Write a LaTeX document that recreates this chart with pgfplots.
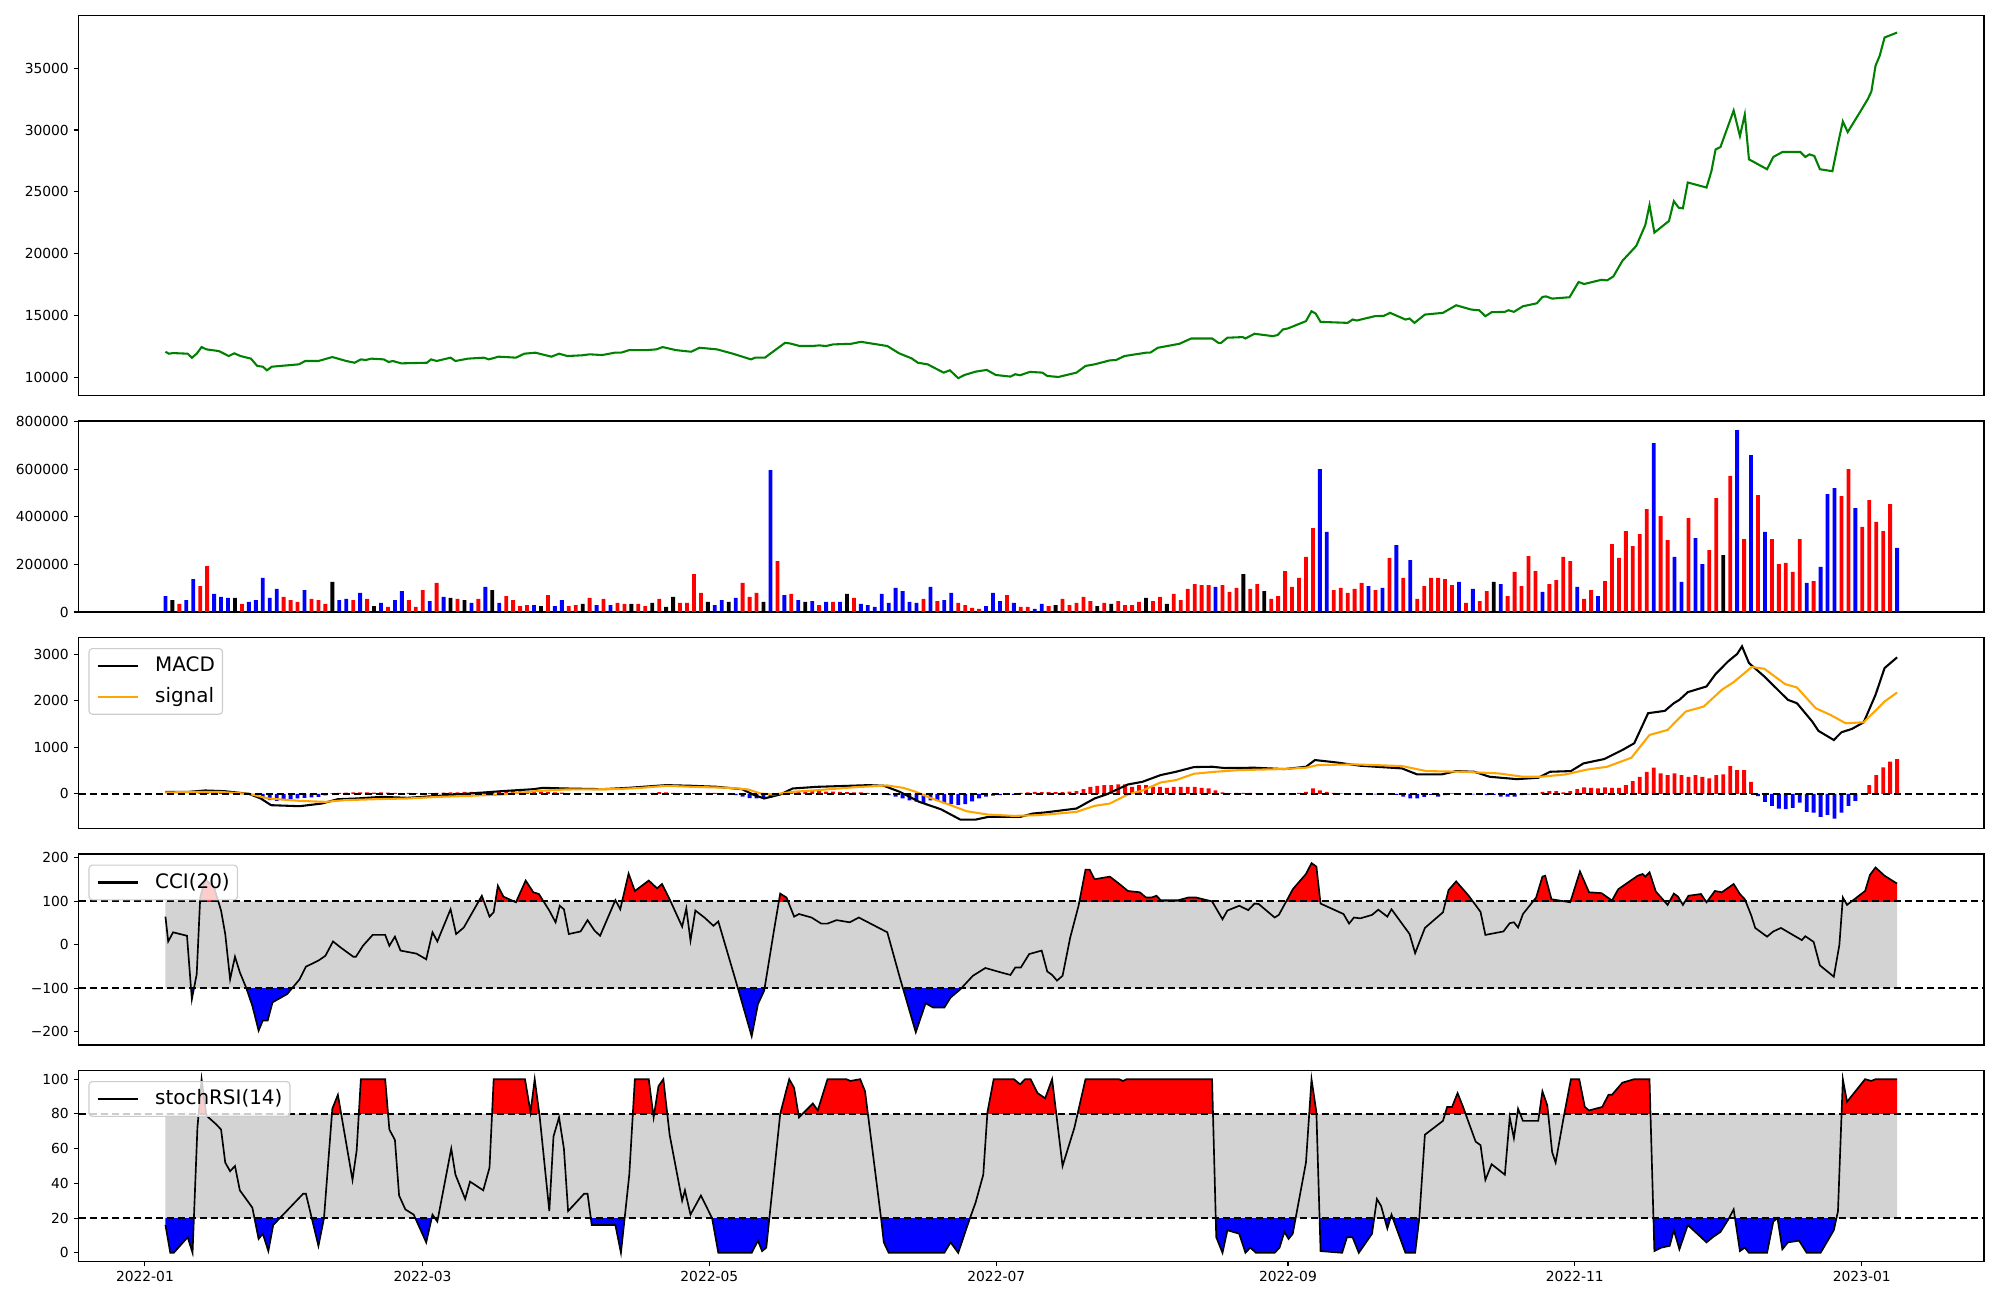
\documentclass[border=0pt]{standalone}
\usepackage{fontspec}
\setmainfont{DejaVu Sans}
\usepackage{pgfplots}
\pgfplotsset{compat=1.18}
\usepackage{pgfplotstable}

\definecolor{mplgreen}{RGB}{0,128,0}
\definecolor{mplorange}{RGB}{255,165,0}
\definecolor{mpllgray}{RGB}{211,211,211}
\definecolor{legedge}{RGB}{204,204,204}

\pgfplotstableread[row sep=\\]{x y\\
0 65\\ 0.4 8\\ 1.1 29\\ 3.1 21\\ 3.8 -125\\ 4.5 -67\\ 5 109\\ 5.7 151\\ 7 132\\ 8 79\\ 8.6 25\\ 9.3 -79\\ 10 -27\\ 10.7 -63\\ 11.6 -98\\ 12.5 -140\\ 13.4 -197\\ 14 -174\\ 14.7 -174\\ 15.4 -132\\ 17.5 -113\\ 19.3 -79\\ 20.2 -50\\ 22 -36\\ 23 -25\\ 24.1 8\\ 25.2 -6\\ 27 -27\\ 27.4 -27\\ 28.4 -2\\ 29.8 23\\ 31.6 23\\ 32.2 -2\\ 33 19\\ 33.8 -13\\ 36.1 -20\\ 37.5 -33\\ 38.4 29\\ 39.1 8\\ 41 82\\ 41.8 25\\ 42.9 40\\ 45.5 113\\ 46.6 65\\ 47.2 75\\ 47.8 136\\ 48.6 111\\ 50.4 98\\ 51.8 148\\ 52.9 121\\ 53.7 117\\ 55.2 79\\ 56.1 52\\ 56.7 90\\ 57.3 82\\ 58 25\\ 59.7 31\\ 60.7 57\\ 61.7 33\\ 62.5 21\\ 64.7 103\\ 65.4 82\\ 66.6 164\\ 67.5 124\\ 69.5 148\\ 70.7 130\\ 71.4 140\\ 72.5 105\\ 74.3 42\\ 74.9 84\\ 75.5 10\\ 76.2 79\\ 77.5 63\\ 78.8 44\\ 79.5 54\\ 82 -82\\ 84.3 -210\\ 85.2 -136\\ 86.1 -105\\ 87.5 33\\ 88.4 118\\ 89.3 109\\ 90.4 65\\ 91.1 71\\ 92.9 63\\ 94.3 49\\ 95.2 49\\ 96.5 57\\ 98.4 52\\ 99.7 63\\ 103.8 29\\ 105.6 -75\\ 107.9 -201\\ 109.3 -134\\ 110.4 -144\\ 112 -144\\ 112.9 -121\\ 114.3 -102\\ 116.1 -71\\ 117.9 -53\\ 120.1 -63\\ 121.5 -69\\ 122.2 -52\\ 123 -52\\ 124.2 -21\\ 126 -13\\ 126.8 -61\\ 127.5 -69\\ 128.2 -82\\ 129 -71\\ 130.1 17\\ 131.3 90\\ 132.3 173\\ 132.9 173\\ 133.6 151\\ 135.8 157\\ 137.1 141\\ 138.4 124\\ 140.1 121\\ 141 109\\ 141.8 109\\ 142.5 113\\ 143.1 103\\ 145.7 103\\ 147.1 109\\ 148.2 109\\ 150.5 100\\ 152 59\\ 152.7 79\\ 154.4 90\\ 155.7 80\\ 156.6 95\\ 157.2 94\\ 159.5 63\\ 160.1 69\\ 161.4 107\\ 162.1 128\\ 164 163\\ 164.8 188\\ 165.5 180\\ 166.1 95\\ 169.4 71\\ 170.2 49\\ 170.9 63\\ 171.8 61\\ 173.5 69\\ 174.4 81\\ 175.7 65\\ 176.3 82\\ 178.9 25\\ 179.7 -19\\ 181.1 39\\ 183.7 75\\ 184.5 126\\ 185.6 146\\ 187.4 113\\ 189.1 76\\ 189.8 23\\ 192.4 31\\ 193.3 50\\ 193.9 52\\ 194.5 40\\ 195.2 71\\ 197.1 109\\ 198 157\\ 198.4 159\\ 199.3 105\\ 202 98\\ 203.4 169\\ 204.7 121\\ 206.5 119\\ 208 102\\ 208.9 128\\ 211.7 159\\ 212.4 163\\ 212.8 157\\ 213.4 167\\ 214.3 123\\ 216 92\\ 216.9 118\\ 217.5 111\\ 218.2 92\\ 219 113\\ 220.8 117\\ 221.6 98\\ 222.8 124\\ 223.8 121\\ 225.5 140\\ 226.4 117\\ 227.1 105\\ 228 69\\ 228.6 39\\ 230.3 19\\ 231.2 31\\ 232.3 39\\ 235.3 11\\ 235.8 20\\ 237 7\\ 237.9 -47\\ 239.9 -73\\ 240.7 0\\ 241.2 109\\ 241.8 92\\ 244.4 124\\ 245.1 161\\ 245.9 178\\ 247.2 159\\ 249 141\\
}\ccitab

\pgfplotstableread[row sep=\\]{x y\\
0 16\\ 0.7 0\\ 1.2 0\\ 3.2 9\\ 3.9 0\\ 4.6 72\\ 5.2 100\\ 5.9 79\\ 7.3 74\\ 8 71\\ 8.6 52\\ 9.3 47\\ 10 50\\ 10.7 36\\ 12.5 26\\ 13.4 8\\ 14 11\\ 14.8 1\\ 15.5 16\\ 19.8 34\\ 20.2 34\\ 22 4\\ 22.8 20\\ 24 83\\ 24.8 91\\ 26.9 42\\ 27.5 59\\ 28.1 100\\ 31.6 100\\ 32.2 71\\ 33 65\\ 33.6 33\\ 34.5 25\\ 35.7 22\\ 37.5 6\\ 38.4 22\\ 39.1 18\\ 41.1 60\\ 41.7 45\\ 43.1 31\\ 43.8 41\\ 45.7 36\\ 46.6 49\\ 47.2 100\\ 51.7 100\\ 52.5 81\\ 53.1 100\\ 53.8 79\\ 55.2 24\\ 55.8 67\\ 56.6 78\\ 57.3 60\\ 57.9 24\\ 60.2 34\\ 60.7 34\\ 61.3 16\\ 64.7 16\\ 65.5 0\\ 66.7 45\\ 67.5 100\\ 69.5 100\\ 70.2 78\\ 70.9 96\\ 71.6 100\\ 72.5 68\\ 74.3 30\\ 74.7 36\\ 75.5 22\\ 77 33\\ 78.6 20\\ 79.5 0\\ 84.3 0\\ 85.2 7\\ 85.8 1\\ 86.4 3\\ 88.4 80\\ 89.3 94\\ 89.7 100\\ 90.4 95\\ 91.1 78\\ 93.1 86\\ 93.8 82\\ 95.2 100\\ 97.9 100\\ 98.5 99\\ 99.9 100\\ 100.6 93\\ 102.9 20\\ 103.3 6\\ 104 0\\ 112 0\\ 112.9 6\\ 114 0\\ 115.6 19\\ 116.5 29\\ 117.6 45\\ 118.2 81\\ 119.1 100\\ 122 100\\ 122.9 97\\ 123.6 100\\ 124.4 100\\ 125.4 92\\ 126.5 89\\ 127.5 100\\ 129 50\\ 130.7 72\\ 132.3 100\\ 137.1 100\\ 137.7 99\\ 138.2 100\\ 150.5 100\\ 151.1 9\\ 152 0\\ 152.7 13\\ 154.4 11\\ 155.3 0\\ 156 3\\ 156.8 0\\ 159.5 0\\ 160.2 3\\ 160.9 12\\ 161.5 8\\ 162.1 11\\ 164 52\\ 164.8 100\\ 165.5 81\\ 166.1 1\\ 169.2 0\\ 169.9 9\\ 170.7 9\\ 171.6 0\\ 173.5 11\\ 174.2 31\\ 174.8 27\\ 175.7 14\\ 176.3 22\\ 178.3 0\\ 179.7 0\\ 180.3 20\\ 181.1 68\\ 183.7 76\\ 184.3 84\\ 185 84\\ 185.8 92\\ 186.5 85\\ 188.4 64\\ 189.1 62\\ 189.8 42\\ 190.7 51\\ 192.6 45\\ 193.3 78\\ 193.9 66\\ 194.5 83\\ 195.2 76\\ 197.4 76\\ 198 93\\ 198.7 85\\ 199.4 58\\ 199.9 52\\ 201.1 79\\ 202.1 100\\ 203.3 100\\ 204.1 84\\ 204.7 82\\ 206.6 84\\ 207.5 91\\ 208 91\\ 209.5 98\\ 211.2 100\\ 213.4 100\\ 214.1 1\\ 215.1 3\\ 216.3 4\\ 216.9 13\\ 217.7 2\\ 218.9 16\\ 220.8 9\\ 221.6 6\\ 222.5 9\\ 223.6 12\\ 224.7 19\\ 225.5 25\\ 226.4 1\\ 227.1 3\\ 227.7 0\\ 230.3 0\\ 231.2 18\\ 231.8 20\\ 232.5 2\\ 233.3 6\\ 234.9 7\\ 236 0\\ 238 0\\ 239.9 13\\ 240.5 24\\ 241.2 100\\ 241.8 87\\ 244.4 100\\ 245.3 99\\ 245.9 100\\ 249 100\\
}\srsitab

\pgfplotsset{
  panel/.style={
    scale only axis, width=19.055in, xmin=-12.5, xmax=261.5,
    anchor=south west,
    axis line style={line width=0.8pt},
    every tick/.style={black, line width=0.8pt},
    tick align=outside, major tick length=3.5pt,
    xtick=\empty, ytick pos=left, xtick pos=bottom,
    tick label style={font=\fontsize{10}{12}\selectfont},
    /pgf/number format/assume math mode=true,
    /pgf/number format/1000 sep={},
    scaled y ticks=false,
    legend style={at={(0,1)}, anchor=north west, xshift=7.2pt, yshift=-7.6pt,
      draw=legedge, line width=0.8pt, fill=white, fill opacity=0.8, draw opacity=1, text opacity=1,
      rounded corners=2.5pt, font=\fontsize{14.4}{17}\selectfont,
      inner xsep=5.5pt, inner ysep=6pt, row sep=9.1pt, column sep=12pt,
      nodes={inner sep=0pt, text height=10.6pt, text depth=2.6pt}},
    legend cell align={left},
    legend image code/.code={\draw[##1, line width=1.5pt, draw opacity=1] (0pt,0pt) -- (28.8pt,0pt);},
  },
  vbar/.style={ybar, bar width=0.55, bar shift=0pt, draw=none, forget plot},
  hdash/.style={black, line width=1.5pt, dash pattern=on 5.55pt off 2.4pt, forget plot},
}

\begin{document}
\begin{tikzpicture}
\path[use as bounding box] (0,0) rectangle (20in,13in);

% ---------------- price
\begin{axis}[panel, at={(0.785in,9.045in)}, height=3.802in,
  ymin=8554, ymax=39266,
  ytick={10000,15000,20000,25000,30000,35000},
  yticklabels={10000,15000,20000,25000,30000,35000}]
\addplot[mplgreen, line width=1.5pt] coordinates {
(0,12090) (0.5,11930) (1.1,11980) (3.2,11930) (3.8,11600) (4.5,11930) (5.2,12465) (5.9,12280) (7.7,12140) (9.1,11740) (9.9,11960) (10.8,11740) (12.3,11530) (13.2,10940) (14,10880) (14.6,10590) (15.3,10880) (19.2,11070) (20.1,11340) (22,11340) (24,11660) (26,11340) (27.2,11200) (28.1,11470) (28.8,11420) (29.6,11530) (31.4,11470) (32.1,11260) (32.7,11340) (33.9,11150) (37.6,11200) (38.2,11470) (39,11340) (41,11610) (41.7,11340) (43.5,11530) (45.8,11610) (46.5,11470) (47.9,11690) (50.4,11610) (51.6,11930) (53.2,12010) (55.5,11690) (56.6,11930) (57.8,11740) (59.9,11800) (61,11880) (62.8,11820) (64.6,12010) (65.5,12010) (66.7,12220) (69.2,12220) (70.6,12280) (71.5,12465) (73.4,12220) (74.7,12140) (75.6,12090) (76.8,12410) (79.3,12280) (81.6,11930) (84.2,11470) (84.8,11610) (86.2,11610) (89.1,12810) (89.8,12760) (91.2,12550) (93,12550) (94,12600) (95,12550) (96,12680) (98.6,12730) (100,12890) (103.8,12550) (105.5,11960) (107.3,11550) (108.2,11200) (109.6,11070) (111.9,10400) (112.8,10590) (114,9950) (114.9,10210) (116.5,10480) (118.1,10620) (119.4,10210) (121.5,10080) (122.2,10270) (122.9,10190) (124.3,10460) (126.1,10400) (126.8,10130) (128.4,10050) (131,10400) (132.3,10940) (133.6,11070) (135.8,11390) (136.7,11420) (137.9,11740) (141,12010) (141.6,12010) (142.7,12410) (145.8,12730) (147.5,13160) (150.5,13160) (151.4,12810) (151.8,12810) (152.7,13220) (154.9,13270) (155.3,13160) (156.6,13540) (159.2,13350) (159.9,13430) (160.7,13890) (161.4,13970) (164,14560) (164.8,15360) (165.4,15170) (166.1,14500) (170,14420) (170.7,14690) (171.3,14610) (173.9,14960) (175.2,14990) (176.1,15230) (178.3,14690) (178.9,14770) (179.6,14420) (181.1,15090) (183.7,15230) (185.6,15840) (187.8,15490) (188.9,15440) (189.8,14960) (190.7,15280) (192.6,15310) (193.1,15440) (193.9,15310) (195.2,15760) (197.2,16000) (198,16510) (198.5,16560) (199.4,16380) (201.9,16490) (203.2,17720) (204,17560) (206.5,17900) (207.3,17850) (208.2,18170) (209.5,19430) (211.5,20640) (212.8,22330) (213.4,23930) (214.1,21710) (216.2,22650) (216.9,24250) (217.6,23720) (218.2,23670) (218.9,25760) (221.6,25350) (222.3,26670) (222.9,28430) (223.6,28620) (225.5,31570) (226.4,29510) (227.1,31250) (227.7,27630) (230.3,26830) (231.2,27820) (232.5,28220) (235.1,28220) (235.8,27820) (236.4,28030) (237.1,27900) (237.9,26830) (239.7,26670) (240.5,28890) (241.2,30690) (241.9,29830) (243.8,31570) (244.8,32510) (245.3,33100) (245.9,35190) (246.5,36000) (247.2,37470) (249,37870)
};
\end{axis}

% ---------------- volume
\begin{axis}[panel, at={(0.785in,6.88in)}, height=1.91in,
  ymin=0, ymax=802000,
  ytick={0,200000,400000,600000,800000},
  yticklabels={0,200000,400000,600000,800000}]
\addplot[vbar, fill=red] coordinates {
(2,34000) (5,109000) (6,193000) (11,34000) (17,63000) (18,50000) (19,42000) (21,55000) (22,50000) (23,34000) (27,50000) (29,55000) (32,21000) (35,50000) (36,21000) (37,92000) (39,122000) (42,55000) (45,55000) (49,67000) (50,50000) (51,25000) (52,29000) (55,71000) (58,25000) (59,29000) (61,59000) (63,55000) (65,38000) (66,34000) (68,34000) (69,25000) (71,55000) (74,38000) (75,38000) (76,159000) (77,80000) (83,122000) (84,63000) (85,80000) (88,214000) (90,76000) (94,29000) (96,42000) (99,59000) (109,55000) (111,46000) (114,38000) (115,29000) (116,17000) (117,13000) (121,71000) (123,21000) (124,21000) (127,25000) (129,55000) (130,29000) (131,38000) (132,63000) (133,46000) (135,38000) (137,46000) (138,29000) (139,29000) (140,42000) (142,46000) (143,63000) (145,76000) (146,50000) (147,97000) (148,117000) (149,113000) (150,113000) (152,113000) (153,84000) (154,101000) (156,97000) (157,117000) (159,55000) (160,67000) (161,172000) (162,105000) (163,143000) (164,231000) (165,352000) (168,92000) (169,101000) (170,80000) (171,97000) (172,122000) (174,92000) (176,227000) (178,143000) (180,55000) (181,109000) (182,143000) (183,143000) (184,138000) (185,113000) (187,38000) (189,46000) (190,88000) (193,67000) (194,168000) (195,109000) (196,235000) (197,172000) (199,117000) (200,134000) (201,231000) (202,214000) (204,55000) (205,92000) (207,130000) (208,285000) (209,227000) (210,340000) (211,277000) (212,327000) (213,432000) (215,403000) (216,302000) (219,394000) (222,260000) (223,478000) (225,571000) (227,306000) (229,491000) (231,306000) (232,201000) (233,206000) (234,168000) (235,306000) (237,130000) (241,487000) (242,600000) (244,357000) (245,470000) (246,378000) (247,340000) (248,453000)
};
\addplot[vbar, fill=blue] coordinates {
(0,67000) (3,50000) (4,138000) (7,76000) (8,63000) (9,59000) (12,42000) (13,50000) (14,143000) (15,59000) (16,97000) (20,92000) (25,50000) (26,55000) (28,80000) (31,38000) (33,50000) (34,88000) (38,46000) (40,63000) (44,38000) (46,105000) (48,38000) (53,29000) (56,25000) (57,50000) (62,29000) (64,29000) (79,29000) (80,50000) (82,59000) (87,596000) (89,71000) (91,50000) (93,46000) (95,42000) (97,42000) (100,34000) (101,29000) (102,21000) (103,76000) (104,38000) (105,101000) (106,88000) (107,42000) (108,38000) (110,105000) (112,50000) (113,80000) (118,25000) (119,80000) (120,46000) (122,38000) (125,13000) (126,34000) (151,105000) (166,600000) (167,336000) (173,109000) (175,101000) (177,281000) (179,218000) (186,126000) (188,97000) (192,117000) (198,84000) (203,105000) (206,67000) (214,709000) (217,231000) (218,126000) (220,310000) (221,201000) (226,764000) (228,659000) (230,336000) (236,122000) (238,189000) (239,495000) (240,520000) (243,436000) (249,269000)
};
\addplot[vbar, fill=black] coordinates {
(1,50000) (10,59000) (24,126000) (30,25000) (41,59000) (43,50000) (47,92000) (54,25000) (60,34000) (67,34000) (70,38000) (72,21000) (73,63000) (78,42000) (81,42000) (86,42000) (92,42000) (98,76000) (128,29000) (134,25000) (136,34000) (141,59000) (144,34000) (155,159000) (158,88000) (191,126000) (224,239000)
};
\end{axis}

% ---------------- MACD
\begin{axis}[panel, at={(0.785in,4.715in)}, height=1.91in,
  ymin=-745, ymax=3360,
  ytick={0,1000,2000,3000}, yticklabels={0,1000,2000,3000}]
\addplot[vbar, fill=red] coordinates {
(5,25) (6,25) (7,20) (8,15) (24,10) (25,20) (26,25) (27,30) (28,30) (29,30) (30,25) (31,30) (32,25) (33,20) (34,15) (35,20) (36,15) (37,15) (38,15) (39,20) (40,25) (41,30) (42,30) (43,40) (44,40) (45,40) (46,40) (47,40) (48,45) (49,55) (50,60) (51,55) (52,50) (53,45) (54,50) (55,40) (56,30) (57,25) (58,15) (59,10) (60,5) (62,5) (64,5) (66,10) (68,10) (70,20) (71,35) (72,30) (73,20) (74,15) (76,15) (78,20) (79,20) (80,10) (89,30) (90,60) (91,65) (92,65) (93,70) (94,60) (95,50) (96,45) (97,40) (98,35) (99,30) (100,30) (101,20) (102,10) (123,20) (124,30) (125,40) (126,35) (127,35) (128,35) (129,35) (130,45) (131,58) (132,100) (133,151) (134,173) (135,187) (136,187) (137,201) (138,201) (139,151) (140,187) (141,187) (142,151) (143,151) (144,130) (145,151) (146,151) (147,151) (148,151) (149,130) (150,115) (151,72) (152,29) (153,15) (154,20) (155,20) (156,20) (157,10) (161,5) (162,10) (163,20) (164,43) (165,115) (166,72) (167,40) (168,20) (169,10) (170,5) (185,10) (186,5) (197,10) (198,43) (199,58) (200,58) (201,30) (202,58) (203,100) (204,137) (205,129) (206,115) (207,137) (208,129) (209,129) (210,187) (211,273) (212,367) (213,474) (214,561) (215,439) (216,403) (217,439) (218,403) (219,367) (220,403) (221,367) (222,331) (223,403) (224,417) (225,597) (226,510) (227,510) (228,259) (245,187) (246,403) (247,568) (248,690) (249,748)
};
\addplot[vbar, fill=blue] coordinates {
(12,-10) (13,-65) (14,-100) (15,-137) (16,-151) (17,-135) (18,-120) (19,-100) (20,-85) (21,-75) (22,-65) (23,-35) (81,-10) (82,-30) (83,-60) (84,-90) (85,-100) (86,-100) (87,-80) (88,-40) (103,-5) (104,-30) (105,-60) (106,-100) (107,-140) (108,-170) (109,-200) (110,-140) (111,-140) (112,-200) (113,-220) (114,-240) (115,-220) (116,-160) (117,-100) (118,-60) (119,-40) (120,-30) (121,-20) (122,-20) (159,-5) (171,-5) (172,-5) (173,-10) (174,-10) (175,-5) (176,-10) (177,-20) (178,-58) (179,-100) (180,-100) (181,-65) (182,-20) (183,-58) (184,-29) (188,-10) (189,-20) (190,-29) (191,-20) (192,-58) (193,-58) (194,-58) (195,-29) (196,-10) (229,-50) (230,-173) (231,-259) (232,-316) (233,-331) (234,-300) (235,-187) (236,-388) (237,-403) (238,-496) (239,-450) (240,-532) (241,-403) (242,-259) (243,-151)
};
\addplot[black, line width=1.5pt] coordinates {
(0,43) (3.4,43) (5.7,72) (8.4,58) (12,0) (13.7,-100) (15.2,-244) (19.3,-266) (22.5,-208) (24.8,-115) (27.5,-100) (31.1,-65) (34.8,-86) (39.3,-43) (43.8,7) (48.4,58) (52.9,100) (54.3,129) (57.5,115) (62.9,100) (66.6,129) (72,187) (75.6,173) (79.3,151) (82.9,100) (84.7,-29) (86.1,-100) (88.4,-14) (90.2,115) (93.8,151) (98.4,173) (101.1,187) (103.3,173) (105.6,43) (108.4,-173) (111.5,-331) (114.3,-554) (116.5,-554) (118.3,-496) (122.9,-496) (124.7,-424) (126.5,-400) (131,-316) (133.6,-100) (135.3,-14) (138.4,201) (140.5,259) (143.1,403) (145.3,474) (147.9,575) (150.5,582) (152.3,554) (156.6,561) (160.9,532) (164,582) (165.3,726) (168.3,676) (171.8,604) (177.8,546) (180,417) (183.5,417) (185.6,489) (188.2,474) (190.4,367) (194.3,316) (197.4,345) (199.1,474) (202.1,489) (203.9,654) (206.9,748) (209.5,942) (211.2,1086) (213.2,1733) (215.6,1783) (216.9,1948) (217.7,2020) (218.9,2185) (221.6,2308) (222.9,2574) (224.7,2847) (226,3005) (226.7,3170) (227.7,2811) (229.9,2523) (231.6,2272) (233.3,2020) (234.6,1948) (236.8,1553) (237.7,1352) (239.9,1157) (241,1323) (242.5,1395) (244.2,1538) (245.9,2128) (247.2,2703) (249,2933)
};
\addlegendentry{MACD}
\addplot[mplorange, line width=1.5pt] coordinates {
(0,29) (4.8,43) (7.6,43) (12,0) (14.8,-100) (19.3,-151) (23,-173) (25.7,-137) (30.2,-115) (34.8,-100) (39.3,-65) (43.8,-43) (48.4,-14) (53.8,65) (57.5,93) (64.7,100) (68.4,129) (72,173) (75.6,151) (81.1,129) (83.8,93) (85.6,7) (87.5,-14) (90.2,43) (93.8,79) (99.3,144) (103.8,180) (106.1,129) (107.9,43) (110.2,-100) (112.9,-244) (115.2,-374) (118.3,-446) (122,-474) (125.2,-460) (127.2,-439) (131,-388) (133.6,-259) (135.8,-208) (138.4,-14) (140.5,72) (143.1,244) (145.3,295) (147.9,431) (150.9,474) (154.4,510) (160.5,532) (164,561) (165.7,618) (170.9,633) (177.8,597) (181.3,489) (186.5,474) (191.7,439) (195.2,367) (197.8,367) (201.3,417) (204.3,518) (207.3,582) (210.8,776) (213.4,1265) (216,1373) (218.6,1768) (221.2,1876) (223.8,2236) (225.5,2401) (228.1,2725) (229.9,2689) (232.9,2358) (234.6,2286) (237.3,1840) (239.4,1697) (241.6,1517) (244.2,1538) (247.2,1984) (249,2178)
};
\addlegendentry{signal}
\addplot[hdash] coordinates {(-12.5,0) (261.5,0)};
\end{axis}

% ---------------- CCI
\begin{axis}[panel, at={(0.785in,2.55in)}, height=1.91in,
  ymin=-230, ymax=209,
  ytick={-200,-100,0,100,200}, yticklabels={−200,−100,0,100,200}]
\addplot[fill=mpllgray, draw=none, forget plot] coordinates {(0,-100) (0,100) (249,100) (249,-100) (0,-100)};
\begin{scope}
\clip (axis cs:-20,100) rectangle (axis cs:300,400);
\addplot[fill=red, draw=none, forget plot] table[x=x, y=y] {\ccitab} -- (axis cs:249,-400) -- (axis cs:0,-400);
\end{scope}
\begin{scope}
\clip (axis cs:-20,-400) rectangle (axis cs:300,-100);
\addplot[fill=blue, draw=none, forget plot] table[x=x, y=y] {\ccitab} -- (axis cs:249,400) -- (axis cs:0,400);
\end{scope}
\addplot[hdash] coordinates {(-12.5,100) (261.5,100)};
\addplot[hdash] coordinates {(-12.5,-100) (261.5,-100)};
\addplot[black, line width=1.2pt] table[x=x, y=y] {\ccitab};
\addlegendentry{CCI(20)}
\end{axis}

% ---------------- stochRSI
\begin{axis}[panel, at={(0.785in,0.385in)}, height=1.91in,
  ymin=-5, ymax=105,
  ytick={0,20,40,60,80,100}, yticklabels={0,20,40,60,80,100},
  xtick={-2.95,36.96,78.21,119.47,161.41,202.66,243.92},
  xticklabels={2022-01,2022-03,2022-05,2022-07,2022-09,2022-11,2023-01}]
\addplot[fill=mpllgray, draw=none, forget plot] coordinates {(0,20) (0,80) (249,80) (249,20) (0,20)};
\begin{scope}
\clip (axis cs:-20,80) rectangle (axis cs:300,200);
\addplot[fill=red, draw=none, forget plot] table[x=x, y=y] {\srsitab} -- (axis cs:249,-100) -- (axis cs:0,-100);
\end{scope}
\begin{scope}
\clip (axis cs:-20,-100) rectangle (axis cs:300,20);
\addplot[fill=blue, draw=none, forget plot] table[x=x, y=y] {\srsitab} -- (axis cs:249,200) -- (axis cs:0,200);
\end{scope}
\addplot[hdash] coordinates {(-12.5,80) (261.5,80)};
\addplot[hdash] coordinates {(-12.5,20) (261.5,20)};
\addplot[black, line width=1.2pt] table[x=x, y=y] {\srsitab};
\addlegendentry{stochRSI(14)}
\end{axis}

\end{tikzpicture}
\end{document}
